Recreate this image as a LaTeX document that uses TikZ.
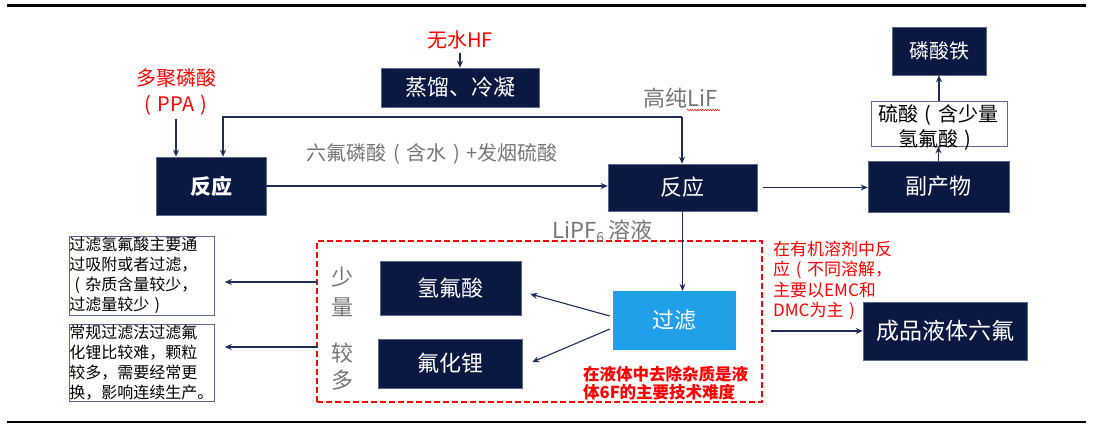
\documentclass[tikz,border=0pt]{standalone}
\usepackage{fontspec}
\setmainfont{Noto Sans CJK SC}
\usetikzlibrary{arrows.meta,decorations.pathmorphing}
\definecolor{navy}{RGB}{10,24,66}
\definecolor{navyline}{RGB}{30,44,90}
\definecolor{boxedge}{RGB}{90,105,140}
\definecolor{txtgray}{RGB}{118,118,118}
\definecolor{filtblue}{RGB}{32,160,232}
\newcommand\fsz[2]{\fontsize{#1}{#2}\selectfont}
\newcommand\lpar{\makebox[1em]{(}}
\newcommand\rpar{\makebox[1em]{)}}
\begin{document}
\begin{tikzpicture}[x=1pt,y=-1pt,
  darkbox/.style={fill=navy,draw=boxedge,line width=0.6pt,text=white,inner sep=0pt},
  arr/.style={draw=navyline,line width=1.1pt,-{Stealth[length=7pt,width=6pt]}},
  notebox/.style={draw=boxedge,line width=0.8pt,anchor=north west,inner xsep=0pt,inner ysep=1pt,text width=145pt,minimum height=77pt,align=left,font=\fsz{16}{20}}]
\useasboundingbox (0,0) rectangle (1093,424);
\fill[white] (0,0) rectangle (1093,424);
\draw[line width=3pt] (7,5) -- (1086,5);
\draw[line width=1.2pt] (7,422) -- (1086,422);

% boxes
\node[darkbox,minimum width=110pt,minimum height=58pt,font=\fsz{21}{25}\bfseries] (r1) at (211,186) {反应};
\node[darkbox,minimum width=158pt,minimum height=39pt,font=\fsz{22}{26}] (dist) at (460,87.5) {蒸馏、冷凝};
\node[darkbox,minimum width=149pt,minimum height=47pt,font=\fsz{22}{26}] (r2) at (682.5,187.5) {反应};
\node[darkbox,minimum width=141pt,minimum height=51pt,font=\fsz{22}{26}] (byp) at (938.5,186.5) {副产物};
\node[draw=boxedge,fill=white,line width=0.8pt,minimum width=136pt,minimum height=45pt,inner sep=0pt] (acid) at (939,123.5) {};
\node[darkbox,minimum width=94pt,minimum height=48pt,font=\fsz{20}{24}] (fe) at (939,51) {磷酸铁};
\node[darkbox,minimum width=141pt,minimum height=54pt,font=\fsz{22}{26}] (hf) at (450.5,288) {氢氟酸};
\node[darkbox,minimum width=144pt,minimum height=49pt,font=\fsz{22}{26}] (lif) at (450,363.5) {氟化锂};
\node[fill=filtblue,draw=filtblue,minimum width=122pt,minimum height=58pt,text=white,font=\fsz{22}{26},inner sep=0pt] (filt) at (674,320) {过滤};
\node[darkbox,minimum width=164pt,minimum height=58pt,font=\fsz{23}{27}] (prod) at (945,331) {成品液体六氟};
\node[draw=red,line width=1.5pt,dash pattern=on 6pt off 3pt,minimum width=445pt,minimum height=161pt,inner sep=0pt] (dbox) at (539.5,321.5) {};

% labels
\node[text=red,font=\fsz{20}{26},align=center] (ppa) at (176,92) {多聚磷酸\\\lpar PPA\rpar};
\node[text=red,font=\fsz{20}{24}] (hfl) at (460,40) {无水HF};
\node[text=txtgray,font=\fsz{22}{26}] (lifl) at (681,98) {高纯LiF};
\draw[red,line width=0.5pt,decorate,decoration={snake,amplitude=0.7pt,segment length=2.5pt}] (687,110) -- (720,110);
\node[text=txtgray,font=\fsz{20}{24}] (mixl) at (432,154) {六氟磷酸\lpar 含水\rpar +发烟硫酸};
\node[text=txtgray,font=\fsz{22}{26},anchor=west,inner sep=0pt] (lipf) at (552,231) {LiPF\raisebox{-0.35ex}{\fsz{14}{14}6} 溶液};
\node[text=txtgray,font=\fsz{22}{30},align=center] (few) at (342,292) {少\\量};
\node[text=txtgray,font=\fsz{22}{27},align=center] (many) at (342,366.5) {较\\多};
\node[notebox] (t1) at (69,236) {过滤氢氟酸主要通\\过吸附或者过滤，\\\lpar 杂质含量较少，\\过滤量较少\rpar};
\node[notebox] (t2) at (69,324) {常规过滤法过滤氟\\化锂比较难，颗粒\\较多，需要经常更\\换，影响连续生产。};
\node[text=red,font=\fsz{16.5}{18}\bfseries,align=left,anchor=north west,inner sep=0pt] (note1) at (583,366) {在液体中去除杂质是液\\体6F的主要技术难度};
\node[text=red,font=\fsz{17}{20.3},align=left,anchor=north west,inner sep=0pt] (note2) at (773,241) {在有机溶剂中反\\应\lpar 不同溶解，\\主要以EMC和\\DMC为主\rpar};

% connectors
\draw[arr] (ppa.south) -- (ppa.south |- r1.north);
\draw[arr] (hfl.south) -- (hfl.south |- dist.north);
\coordinate (c1) at (682,117);
\coordinate (c2) at (223,117);
\draw[arr] (c1) -- (c1 |- r2.north);
\draw[arr] (c1) -- (c2) -- (c2 |- r1.north);
\draw[arr] (r1.east) -- (r1.east -| r2.west);
\draw[arr,shorten <=6pt] (r2.east) -- (r2.east -| byp.west);
\draw[arr] (byp.north) -- (byp.north |- acid.south);
\draw[arr] (acid.north) -- (acid.north |- fe.south);
\draw[arr] (r2.south) -- (r2.south |- filt.north);
\draw[arr] ([xshift=-3pt,yshift=4pt]filt.west) -- ([xshift=9pt,yshift=-6pt]hf.east);
\draw[arr] ([xshift=-3pt,yshift=-9pt]filt.west) -- ([xshift=10pt,yshift=1.5pt]lif.east);
\coordinate (s1) at (317,282);
\coordinate (s2) at (317,347);
\draw[arr,shorten >=10pt] (s1) -- (s1 -| t1.east);
\draw[arr,shorten >=10pt] (s2) -- (s2 -| t2.east);
\draw[arr,shorten <=8pt] (dbox.east |- prod.west) -- (prod.west);

\node[font=\fsz{20}{25},align=center,inner sep=0pt] (acidt) at (938,127.5) {硫酸\lpar 含少量\\氢氟酸\rpar};
\end{tikzpicture}
\end{document}
